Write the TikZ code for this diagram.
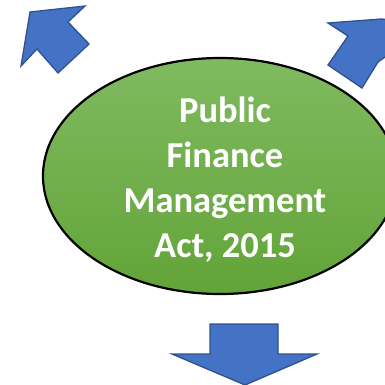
\documentclass[tikz,border=0pt]{standalone}
\usepackage{fontspec}
\setmainfont{Carlito}
\usetikzlibrary{shapes.geometric}
\definecolor{arrowblue}{HTML}{4472C4}
\definecolor{arrowedge}{HTML}{2F528F}
\definecolor{greentop}{HTML}{80BA60}
\definecolor{greenbot}{HTML}{62A438}
\begin{document}
\begin{tikzpicture}[x=1pt,y=-1pt,
  blockarrow/.style={fill=arrowblue,draw=arrowedge,line width=1.3pt,line join=miter},
  bubble/.style={ellipse,minimum width=354pt,minimum height=236pt,inner sep=0pt,
    top color=greentop,bottom color=greenbot,draw=black,line width=2.2pt},
  titletext/.style={text=white,font=\bfseries\fontsize{36.5}{45}\selectfont,align=center,inner sep=0pt}]
\useasboundingbox (0,0) rectangle (385,384);
\clip (0,0) rectangle (385,384);
% arrows
\draw[blockarrow] (30,12) -- (85,6) -- (68,22) -- (89,44) -- (58,73) -- (37,49) -- (21,66) -- cycle;
\draw[blockarrow] (328,23) -- (381,19) -- (395,20) -- (395,50) -- (378,62) -- (362,88) -- (328,65) -- (348,36) -- cycle;
\draw[blockarrow] (210,324) -- (278,324) -- (278,354) -- (317,354) -- (245,385) -- (172,354) -- (210,354) -- cycle;
% ellipse
\node[bubble] (pfma) at (220,176) {};
\node[titletext] (title) at (225,180) {Public\\Finance\\Management\\Act, 2015};
\end{tikzpicture}
\end{document}
